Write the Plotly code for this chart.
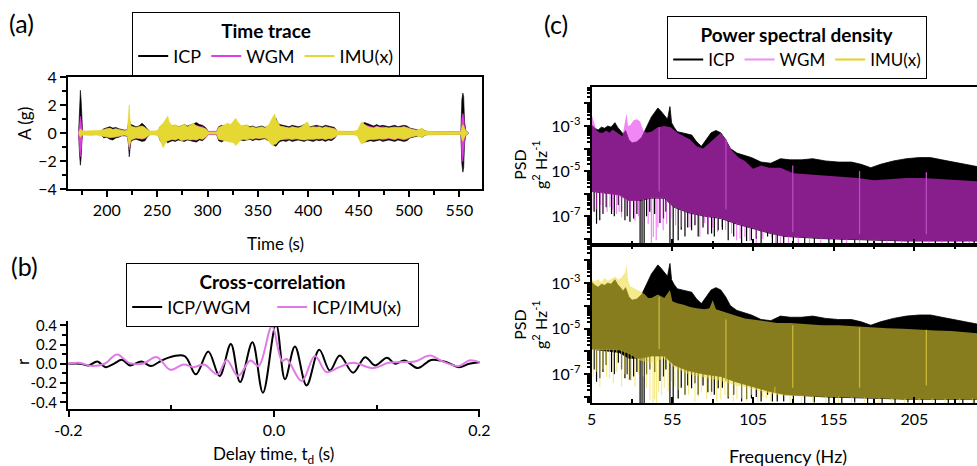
import numpy as np
import plotly.graph_objects as go

W, H = 977, 466
FONT = "Lato"

# ---------------- (a) Time trace: envelopes ----------------
time_s = [172, 173, 173.8, 174.5, 175.3, 176,
          180, 185, 190, 194,
          197, 200, 203, 206, 209, 212, 215, 218,
          220.5, 221.5, 222.3, 223, 224,
          226, 229, 232, 235, 238, 240,
          243, 247, 251,
          253, 256, 259, 260.5, 262, 265, 268, 271, 274, 277, 280, 283, 286, 289, 292, 295, 298,
          301, 305, 309,
          311, 314, 317, 320, 323, 326, 328, 330, 333, 336, 339, 342, 345, 348, 351, 354, 357, 359,
          361, 363, 365, 366.5, 368, 370, 372,
          375, 378, 381, 384, 387, 390, 393, 396, 399, 402, 405, 408, 411, 414, 417, 420, 423, 426,
          429, 434, 439, 444, 449,
          451, 453, 456, 459, 462, 465, 468, 471, 474, 477, 480, 483, 486, 489, 492, 495, 498, 501, 504, 507, 510, 513, 516,
          520, 526, 532, 538, 544, 550,
          551.5, 552.5, 553.5, 554.3, 555.2, 556.5, 558, 559]
icp_hi = [0.05, 2.3, 3.05, 2.4, 1.0, 0.1,
          0.08, 0.08, 0.1, 0.12,
          0.3, 0.4, 0.45, 0.35, 0.4, 0.3, 0.25, 0.2,
          0.25, 0.8, 1.0, 0.7, 0.6,
          0.55, 0.45, 0.5, 0.7, 0.5, 0.3,
          0.1, 0.1, 0.12,
          0.45, 0.55, 0.6, 0.7, 0.55, 0.5, 0.55, 0.45, 0.5, 0.6, 0.5, 0.55, 0.65, 0.75, 0.6, 0.55, 0.4,
          0.1, 0.1, 0.1,
          0.45, 0.55, 0.5, 0.6, 0.5, 0.55, 0.65, 0.55, 0.45, 0.5, 0.55, 0.45, 0.5, 0.4, 0.45, 0.5, 0.4, 0.45,
          0.5, 0.7, 0.9, 0.8, 1.05, 0.7, 0.6,
          0.55, 0.5, 0.45, 0.55, 0.5, 0.45, 0.5, 0.6, 0.55, 0.45, 0.5, 0.55, 0.5, 0.45, 0.55, 0.5, 0.45, 0.4,
          0.1, 0.1, 0.1, 0.1, 0.1,
          0.4, 0.65, 0.75, 0.65, 0.55, 0.5, 0.6, 0.5, 0.55, 0.5, 0.45, 0.5, 0.55, 0.45, 0.5, 0.55, 0.5, 0.35, 0.3, 0.25, 0.2, 0.3, 0.15,
          0.08, 0.08, 0.08, 0.08, 0.08, 0.08,
          0.1, 2.4, 2.85, 2.6, 0.8, 0.15, 0.1, 0.0]
icp_lo = [-0.05, -1.6, -2.3, -1.8, -0.6, -0.1,
          -0.08, -0.08, -0.1, -0.12,
          -0.35, -0.3, -0.45, -0.5, -0.35, -0.3, -0.2, -0.2,
          -0.25, -0.8, -1.7, -1.2, -0.6,
          -0.5, -0.45, -0.5, -0.6, -0.55, -0.3,
          -0.1, -0.1, -0.12,
          -0.55, -0.75, -0.6, -0.7, -0.65, -0.55, -0.6, -0.5, -0.55, -0.6, -0.5, -0.55, -0.6, -0.65, -0.5, -0.55, -0.35,
          -0.1, -0.1, -0.1,
          -0.55, -0.65, -0.5, -0.55, -0.6, -0.55, -0.65, -0.6, -0.5, -0.55, -0.5, -0.45, -0.55, -0.45, -0.5, -0.45, -0.4, -0.5,
          -0.55, -0.7, -0.85, -0.9, -0.95, -0.75, -0.6,
          -0.55, -0.6, -0.5, -0.6, -0.55, -0.5, -0.55, -0.6, -0.5, -0.55, -0.6, -0.5, -0.55, -0.5, -0.6, -0.5, -0.55, -0.4,
          -0.1, -0.1, -0.1, -0.1, -0.1,
          -0.45, -0.7, -0.65, -0.6, -0.55, -0.6, -0.55, -0.5, -0.6, -0.55, -0.5, -0.55, -0.6, -0.5, -0.55, -0.6, -0.55, -0.35, -0.3, -0.25, -0.2, -0.3, -0.15,
          -0.08, -0.08, -0.08, -0.08, -0.08, -0.08,
          -0.1, -2.2, -2.8, -2.5, -0.7, -0.15, -0.1, 0.0]
wgm_hi = [0.05, 0.8, 1.2, 0.9, 0.3, 0.08,
          0.06, 0.06, 0.08, 0.1,
          0.2, 0.3, 0.3, 0.25, 0.3, 0.2, 0.2, 0.15,
          0.2, 0.6, 0.9, 0.6, 0.4,
          0.4, 0.35, 0.4, 0.5, 0.35, 0.2,
          0.08, 0.08, 0.1,
          0.35, 0.45, 0.5, 0.5, 0.45, 0.4, 0.45, 0.35, 0.4, 0.45, 0.4, 0.45, 0.5, 0.55, 0.45, 0.45, 0.3,
          0.12, 0.12, 0.12,
          0.35, 0.45, 0.4, 0.5, 0.4, 0.45, 0.5, 0.45, 0.35, 0.4, 0.45, 0.35, 0.4, 0.3, 0.35, 0.4, 0.3, 0.35,
          0.4, 0.55, 0.7, 0.65, 0.8, 0.55, 0.45,
          0.45, 0.4, 0.35, 0.45, 0.4, 0.35, 0.4, 0.5, 0.45, 0.35, 0.4, 0.45, 0.4, 0.35, 0.45, 0.4, 0.35, 0.3,
          0.1, 0.1, 0.1, 0.1, 0.1,
          0.3, 0.5, 0.6, 0.5, 0.45, 0.4, 0.5, 0.4, 0.45, 0.4, 0.35, 0.4, 0.45, 0.35, 0.4, 0.45, 0.4, 0.3, 0.25, 0.2, 0.15, 0.25, 0.12,
          0.08, 0.08, 0.08, 0.08, 0.08, 0.08,
          0.1, 1.0, 1.4, 1.2, 0.4, 0.1, 0.05, 0.0]
wgm_lo = [-0.05, -1.2, -1.7, -1.4, -0.5, -0.08,
          -0.06, -0.06, -0.08, -0.1,
          -0.25, -0.25, -0.35, -0.35, -0.3, -0.25, -0.15, -0.15,
          -0.2, -0.6, -1.2, -0.9, -0.4,
          -0.4, -0.35, -0.4, -0.45, -0.4, -0.2,
          -0.08, -0.08, -0.1,
          -0.45, -0.6, -0.5, -0.55, -0.5, -0.45, -0.5, -0.4, -0.45, -0.5, -0.4, -0.45, -0.5, -0.5, -0.4, -0.45, -0.3,
          -0.12, -0.12, -0.12,
          -0.45, -0.5, -0.4, -0.45, -0.5, -0.45, -0.5, -0.5, -0.4, -0.45, -0.4, -0.35, -0.45, -0.35, -0.4, -0.35, -0.3, -0.4,
          -0.45, -0.55, -0.7, -0.7, -0.75, -0.6, -0.45,
          -0.45, -0.5, -0.4, -0.5, -0.45, -0.4, -0.45, -0.5, -0.4, -0.45, -0.5, -0.4, -0.45, -0.4, -0.5, -0.4, -0.45, -0.3,
          -0.1, -0.1, -0.1, -0.1, -0.1,
          -0.35, -0.55, -0.5, -0.5, -0.45, -0.5, -0.45, -0.4, -0.5, -0.45, -0.4, -0.45, -0.5, -0.4, -0.45, -0.5, -0.45, -0.3, -0.25, -0.2, -0.15, -0.25, -0.12,
          -0.08, -0.08, -0.08, -0.08, -0.08, -0.08,
          -0.1, -1.5, -2.05, -1.8, -0.5, -0.1, -0.05, 0.0]
imu_hi = [0.05, 0.2, 0.3, 0.25, 0.15, 0.15,
          0.15, 0.17, 0.15, 0.2,
          0.25, 0.3, 0.35, 0.25, 0.3, 0.25, 0.2, 0.15,
          0.25, 1.2, 2.0, 1.0, 0.5,
          0.45, 0.4, 0.45, 0.5, 0.4, 0.25,
          0.15, 0.14, 0.2,
          0.5, 0.7, 1.0, 1.2, 0.8, 0.5, 0.6, 0.45, 0.5, 0.65, 0.45, 0.55, 0.7, 0.5, 0.45, 0.4, 0.3,
          0.08, 0.08, 0.08,
          0.4, 0.5, 0.6, 0.7, 0.6, 0.9, 1.05, 0.8, 0.55, 0.5, 0.6, 0.4, 0.45, 0.35, 0.4, 0.45, 0.35, 0.5,
          0.6, 0.9, 1.2, 1.35, 1.0, 0.7, 0.5,
          0.45, 0.4, 0.35, 0.45, 0.4, 0.35, 0.45, 0.6, 0.8, 0.4, 0.45, 0.4, 0.45, 0.35, 0.45, 0.4, 0.35, 0.3,
          0.15, 0.12, 0.12, 0.12, 0.2,
          0.5, 0.8, 0.6, 0.45, 0.4, 0.35, 0.45, 0.4, 0.35, 0.4, 0.35, 0.4, 0.4, 0.35, 0.4, 0.45, 0.35, 0.3, 0.25, 0.2, 0.25, 0.35, 0.15,
          0.12, 0.1, 0.1, 0.1, 0.1, 0.1,
          0.1, 0.4, 0.6, 0.5, 0.3, 0.15, 0.1, 0.0]
imu_lo = [-0.05, -0.2, -0.3, -0.25, -0.15, -0.15,
          -0.15, -0.17, -0.15, -0.2,
          -0.25, -0.3, -0.3, -0.3, -0.3, -0.2, -0.2, -0.15,
          -0.25, -0.7, -1.0, -0.8, -0.5,
          -0.45, -0.35, -0.4, -0.4, -0.35, -0.25,
          -0.15, -0.14, -0.2,
          -0.6, -1.05, -0.6, -0.55, -0.5, -0.45, -0.5, -0.4, -0.55, -0.5, -0.45, -0.5, -0.45, -0.5, -0.4, -0.45, -0.3,
          -0.08, -0.08, -0.08,
          -0.45, -0.5, -0.55, -0.6, -0.65, -0.7, -0.9, -0.75, -0.5, -0.45, -0.5, -0.4, -0.45, -0.35, -0.4, -0.4, -0.35, -0.45,
          -0.6, -0.8, -0.9, -0.8, -0.8, -0.6, -0.5,
          -0.45, -0.4, -0.4, -0.45, -0.4, -0.4, -0.45, -0.5, -0.45, -0.4, -0.45, -0.4, -0.4, -0.4, -0.45, -0.4, -0.4, -0.3,
          -0.15, -0.12, -0.12, -0.12, -0.2,
          -0.55, -0.8, -0.65, -0.5, -0.45, -0.4, -0.45, -0.4, -0.4, -0.4, -0.35, -0.4, -0.45, -0.35, -0.4, -0.45, -0.35, -0.3, -0.25, -0.2, -0.25, -0.3, -0.15,
          -0.12, -0.1, -0.1, -0.1, -0.1, -0.1,
          -0.1, -0.4, -0.6, -0.5, -0.3, -0.15, -0.1, 0.0]

# ---------------- (b) Cross-correlation ----------------
td_wgm = [-0.2, -0.1883, -0.1803, -0.172, -0.164, -0.156, -0.148, -0.140, -0.129, -0.120, -0.112,
          -0.104, -0.087, -0.076, -0.064, -0.053, -0.042, -0.033, -0.021, -0.0108, 0.002, 0.0107,
          0.0204, 0.0317, 0.044, 0.0544, 0.064, 0.077, 0.0887, 0.0984, 0.110, 0.118, 0.127, 0.140,
          0.153, 0.168, 0.180, 0.190, 0.2]
r_icp_wgm = [0.0, 0.0, -0.017, 0.024, -0.035, 0.0, 0.041, -0.017, 0.024, -0.024, 0.017,
             0.059, 0.08, -0.11, 0.128, -0.128, 0.207, -0.19, 0.224, -0.30, 0.41, -0.16,
             0.18, -0.225, 0.145, -0.07, 0.086, -0.093, 0.069, -0.017, 0.062, 0.0, 0.035, -0.045,
             0.04, 0.017, -0.035, 0.0, 0.017]
td_imu = [-0.2, -0.19, -0.177, -0.165, -0.1527, -0.141, -0.128, -0.114, -0.101, -0.088, -0.078,
          -0.068, -0.055, -0.046, -0.035, -0.023, -0.015, -0.002, 0.0078, 0.0124, 0.0269, 0.0398,
          0.0511, 0.0625, 0.077, 0.0967, 0.1114, 0.122, 0.137, 0.152, 0.164, 0.180, 0.190, 0.2]
r_icp_imu = [0.0, 0.01, -0.024, 0.0, 0.097, 0.01, 0.0, 0.069, -0.062, -0.007, -0.035,
             -0.007, -0.11, 0.04, -0.128, 0.035, -0.024, 0.39, 0.03, 0.05, -0.18, 0.08,
             -0.086, -0.04, 0.01, -0.045, 0.01, 0.017, 0.024, 0.086, 0.024, -0.024, 0.035, 0.017]

# ---------------- (c) PSD (values as log10 of g^2/Hz) ----------------
f_icp_up = [5, 7, 9, 11, 13, 15, 17, 19.4, 21, 22.5, 24.5, 26, 28, 30, 33, 36, 38, 40, 42, 44,
            46, 48, 50, 52, 53.5, 54.5, 56, 58, 61, 64, 67, 70, 73, 76, 79, 82, 85, 88, 91, 95,
            99, 104, 110, 116, 122, 128, 135, 142, 150, 158, 166, 172, 178, 184, 192, 200, 208, 215, 222, 230,
            237, 244]
icp_up_log = [-2.96, -3.1, -3.18, -3.05, -3.1, -3.0, -3.05, -2.85, -3.05, -3.2, -3.35, -3.2, -3.6, -3.75, -3.7, -3.5, -3.2, -2.95, -2.6, -2.4,
              -2.2, -2.35, -2.55, -2.7, -2.14, -2.85, -3.05, -3.25, -3.3, -3.35, -3.4, -3.7, -3.9, -3.6, -3.3, -3.2, -3.3, -3.6, -4.0, -4.2,
              -4.3, -4.4, -4.6, -4.65, -4.45, -4.5, -4.5, -4.45, -4.55, -4.6, -4.6, -4.7, -4.85, -4.7, -4.55, -4.45, -4.4, -4.4, -4.5, -4.6,
              -4.7, -4.8]
f_wgm_up = [5, 6, 8, 10, 12, 14, 16, 18, 20, 22, 24, 26.6, 27.5, 29, 31, 33, 35, 37, 39, 42,
            46, 50, 54, 58, 62, 66, 70, 74, 78, 82, 85, 88, 92, 96, 100, 105, 110, 115, 122, 130,
            140, 150, 160, 170, 180, 190, 200, 210, 220, 230, 244]
wgm_up_log = [-2.5, -2.7, -3.2, -3.3, -3.3, -3.2, -3.3, -3.15, -3.25, -3.35, -3.45, -2.45, -3.0, -2.95, -2.75, -2.7, -2.8, -3.2, -3.3, -3.25,
              -3.05, -3.0, -3.05, -3.3, -3.45, -3.6, -3.9, -4.0, -3.75, -3.5, -3.3, -3.6, -4.1, -4.4, -4.55, -4.9, -4.75, -4.85, -4.85, -5.1,
              -5.15, -5.2, -5.25, -5.3, -5.4, -5.35, -5.3, -5.3, -5.35, -5.4, -5.45]
f_imu_up = [5, 7, 9, 11, 13, 15, 17, 19.5, 21.5, 23.5, 25.5, 26.6, 27.6, 29, 30.7, 32, 34, 36, 38, 40,
            42, 46, 50, 53.5, 55, 58, 62, 66, 70, 75, 78, 80, 82, 86, 90, 95, 100, 105, 112, 120,
            128, 138, 148, 158, 168, 178, 188, 198, 208, 218, 228, 237, 244]
imu_up_log = [-2.85, -2.93, -2.82, -2.97, -2.78, -2.9, -2.82, -2.71, -2.85, -2.75, -2.56, -2.19, -2.9, -3.15, -3.2, -3.25, -3.3, -3.4, -3.5, -3.65,
              -3.66, -3.5, -3.65, -3.3, -3.8, -3.88, -3.95, -4.05, -4.1, -4.15, -4.1, -3.75, -4.15, -4.25, -4.35, -4.45, -4.55, -4.6, -4.65, -4.75,
              -4.75, -4.8, -4.85, -4.85, -4.9, -4.95, -4.98, -5.0, -5.05, -5.08, -5.1, -5.15, -5.2]
# lower edge of the dense part of each spectrum
f_base = [5, 15, 22, 28, 35, 42, 50, 56, 65, 75, 85, 95, 105, 115, 125, 150, 175, 200, 225, 244]
icp_base_log = [-5.9, -6.0, -6.05, -6.3, -6.3, -6.2, -6.2, -6.6, -6.85, -7.0, -7.1, -7.35, -7.55, -7.75, -7.9, -8.0, -8.05, -8.1, -8.1, -8.1]
wgm_base_log = [-5.9, -6.0, -6.1, -6.35, -6.3, -6.2, -6.2, -6.6, -6.85, -7.0, -7.1, -7.35, -7.55, -7.75, -7.9, -8.0, -8.05, -8.1, -8.1, -8.1]
imu_base_log = [-5.94, -5.94, -5.95, -6.1, -6.4, -6.5, -6.3, -6.7, -7.0, -7.15, -7.3, -7.5, -7.65, -7.85, -7.95, -8.0, -8.05, -8.1, -8.1, -8.1]
# downward spikes below the dense part
icp_spk_f = [6.5, 8, 10, 12, 14, 17.3, 19, 21.5, 23.5, 25.6, 27, 28.7, 31, 33, 35, 36.2, 37.5, 39, 41, 44,
             47.3, 49.5, 51, 53.5, 55.5, 58.6, 60.5, 62.8, 64.5, 66.9, 69, 71, 74, 77, 79.3, 81, 83.4, 86, 89.6, 93,
             97.9, 101, 104, 107, 110, 114, 117, 120, 124, 130, 137, 143, 152, 160, 168, 176, 185, 193, 201, 210,
             218, 226, 235, 242]
icp_spk_log = [-6.8, -7.33, -7.18, -6.9, -6.6, -6.9, -7.0, -6.5, -6.8, -7.18, -7.0, -7.25, -7.1, -6.9, -8.3, -8.3, -8.3, -7.0, -6.8, -6.9,
               -7.3, -7.1, -6.8, -8.3, -8.3, -8.07, -7.6, -7.9, -7.5, -7.62, -7.4, -7.9, -7.5, -7.8, -7.77, -7.9, -7.62, -7.6, -8.07, -7.9,
               -8.2, -8.1, -8.07, -8.0, -8.2, -7.9, -8.2, -8.2, -8.2, -8.3, -8.3, -8.25, -8.3, -8.3, -8.25, -8.3, -8.3, -8.3, -8.25, -8.3,
               -8.3, -8.3, -8.3, -8.3]
wgm_spk_f = [6, 8, 10.5, 12.2, 14.5, 16.3, 18, 20.4, 22, 23.5, 26, 29, 31.8, 34, 37, 40, 42, 43.2, 45, 46,
             47.5, 49.3, 51.4, 54, 57, 60.7, 63, 66, 69, 72, 75, 77.2, 80, 83, 85.5, 88, 91.7, 94.8, 97, 100,
             103, 107, 111, 116.4, 119, 122, 127, 133, 140, 147, 155, 163, 171, 180, 188, 197, 205, 214, 222, 231,
             239]
wgm_spk_log = [-6.73, -6.7, -6.5, -6.9, -6.8, -6.6, -6.7, -6.9, -6.8, -7.05, -7.0, -6.9, -7.2, -7.0, -7.2, -7.33, -8.3, -7.92, -8.07, -7.5,
               -7.3, -7.62, -7.33, -7.1, -7.4, -7.48, -7.2, -7.5, -7.18, -7.92, -7.3, -7.62, -7.5, -7.7, -7.48, -7.6, -7.77, -8.07, -8.0, -7.92,
               -8.1, -8.2, -8.0, -7.92, -8.2, -8.2, -8.3, -8.3, -8.25, -8.3, -8.3, -8.3, -8.25, -8.3, -8.3, -8.3, -8.3, -8.25, -8.3, -8.3,
               -8.3]
imu_spk_f = [6, 8, 10, 12, 14.2, 16, 18.4, 20.5, 23.5, 25.5, 27.6, 29.5, 31.8, 34, 37, 39, 41, 43, 44, 45.2,
             46.5, 48.3, 50, 52.4, 54.5, 56.6, 59, 62.8, 65, 69, 71, 73, 76.2, 79, 82.4, 85, 87.5, 90, 92.7, 95,
             97.9, 101, 104, 108, 111, 113.3, 116, 118.5, 120.5, 122.6, 128, 135, 142, 150, 158, 166, 174, 183, 191, 199,
             208, 216, 224, 233, 241]
imu_spk_log = [-7.11, -6.9, -7.55, -6.8, -7.11, -7.2, -7.4, -6.9, -7.55, -7.0, -7.26, -7.3, -7.55, -7.0, -7.1, -7.6, -8.14, -8.3, -8.1, -8.3,
               -7.8, -7.92, -7.6, -7.77, -7.3, -7.55, -7.7, -7.92, -7.9, -8.2, -8.0, -7.77, -8.07, -7.9, -8.2, -8.1, -7.92, -8.0, -8.2, -8.1,
               -8.07, -8.2, -7.92, -8.2, -8.0, -8.07, -8.2, -7.55, -7.9, -7.92, -8.3, -8.3, -8.25, -8.3, -8.3, -8.3, -8.25, -8.3, -8.3, -8.3,
               -8.3, -8.25, -8.3, -8.3, -8.3]
# narrow harmonic lines
harm_f = [46.8, 88.2, 129.6, 171.0, 212.4]
harm_wgm_top = [-3.05, -3.6, -4.75, -5.0, -5.05]
harm_wgm_bot = [-5.9, -6.7, -7.7, -7.8, -7.8]
harm_imu_top = [-3.6, -4.6, -4.85, -4.95, -5.05]
harm_imu_bot = [-5.9, -7.3, -7.6, -7.6, -7.5]

for a in (icp_hi, icp_lo, wgm_hi, wgm_lo, imu_hi, imu_lo):
    assert len(a) == len(time_s)
assert len(td_wgm) == len(r_icp_wgm) and len(td_imu) == len(r_icp_imu)
assert len(f_icp_up) == len(icp_up_log) and len(f_wgm_up) == len(wgm_up_log) and len(f_imu_up) == len(imu_up_log)
for a in (icp_base_log, wgm_base_log, imu_base_log):
    assert len(a) == len(f_base)
assert len(icp_spk_f) == len(icp_spk_log) and len(wgm_spk_f) == len(wgm_spk_log) and len(imu_spk_f) == len(imu_spk_log)

# colours
C_ICP = "#000000"
C_WGM_A = "#E23CE6"
C_IMU_A = "#E6D832"
C_IMU_B = "#E07AE8"
C_WGM_C = "#F090F0"
C_IMU_C = "#E8D020"
FILL_WGM_C = "rgba(230,51,238,0.59)"
FILL_IMU_C = "rgba(237,219,53,0.57)"

fig = go.Figure()


def band(x_up, y_up, x_lo, y_lo, color, xa, ya, log=False, lw=0.6):
    xs = list(x_up) + list(x_lo)[::-1]
    ys = list(y_up) + list(y_lo)[::-1]
    if log:
        ys = list(np.power(10.0, ys))
    fig.add_trace(go.Scatter(x=xs, y=ys, mode="lines", fill="toself", fillcolor=color,
                             line=dict(color=color, width=lw), hoverinfo="skip",
                             showlegend=False, xaxis=xa, yaxis=ya))


def spikes(fs, depth, base_f, base_log, color, xa, ya, width=1.2):
    start = np.interp(fs, base_f, base_log)
    xs, ys = [], []
    for f, s, d in zip(fs, start, depth):
        xs += [f, f, None]
        ys += [10 ** (s + 0.03), 10 ** d, None]
    fig.add_trace(go.Scatter(x=xs, y=ys, mode="lines", line=dict(color=color, width=width),
                             hoverinfo="skip", showlegend=False, xaxis=xa, yaxis=ya))


def vlines(fs, top, bot, color, xa, ya, width=1.3):
    xs, ys = [], []
    for f, t, b in zip(fs, top, bot):
        xs += [f, f, None]
        ys += [10 ** t, 10 ** b, None]
    fig.add_trace(go.Scatter(x=xs, y=ys, mode="lines", line=dict(color=color, width=width),
                             hoverinfo="skip", showlegend=False, xaxis=xa, yaxis=ya))


# (a)
band(time_s, icp_hi, time_s, icp_lo, C_ICP, "x", "y")
band(time_s, wgm_hi, time_s, wgm_lo, C_WGM_A, "x", "y")
band(time_s, imu_hi, time_s, imu_lo, C_IMU_A, "x", "y")

# (b)
fig.add_trace(go.Scatter(x=td_wgm, y=r_icp_wgm, mode="lines", line=dict(color=C_ICP, width=2, shape="spline", smoothing=1.0),
                         name="ICP/WGM", xaxis="x2", yaxis="y2", legend="legend2"))
fig.add_trace(go.Scatter(x=td_imu, y=r_icp_imu, mode="lines", line=dict(color=C_IMU_B, width=2, shape="spline", smoothing=1.0),
                         name="ICP/IMU(x)", xaxis="x2", yaxis="y2", legend="legend2"))

# (c) top: ICP then WGM (translucent)
band(f_icp_up, icp_up_log, f_base, icp_base_log, C_ICP, "x3", "y3", log=True, lw=0.8)
spikes(icp_spk_f, icp_spk_log, f_base, icp_base_log, C_ICP, "x3", "y3")
band(f_wgm_up, wgm_up_log, f_base, wgm_base_log, FILL_WGM_C, "x3", "y3", log=True, lw=0)
spikes(wgm_spk_f, wgm_spk_log, f_base, wgm_base_log, FILL_WGM_C, "x3", "y3")
vlines(harm_f, harm_wgm_top, harm_wgm_bot, "#B84AC0", "x3", "y3")
# (c) bottom: ICP then IMU (translucent)
band(f_icp_up, icp_up_log, f_base, icp_base_log, C_ICP, "x4", "y4", log=True, lw=0.8)
spikes(icp_spk_f, icp_spk_log, f_base, icp_base_log, C_ICP, "x4", "y4")
band(f_imu_up, imu_up_log, f_base, imu_base_log, FILL_IMU_C, "x4", "y4", log=True, lw=0)
spikes(imu_spk_f, imu_spk_log, f_base, imu_base_log, FILL_IMU_C, "x4", "y4")
vlines(harm_f, harm_imu_top, harm_imu_bot, "#C9B735", "x4", "y4")

# legend-only entries
for nm, col in (("ICP", C_ICP), ("WGM", C_WGM_A), ("IMU(x)", C_IMU_A)):
    fig.add_trace(go.Scatter(x=[None], y=[None], mode="lines", line=dict(color=col, width=2),
                             name=nm, xaxis="x", yaxis="y", legend="legend"))
for nm, col in (("ICP", C_ICP), ("WGM", C_WGM_C), ("IMU(x)", C_IMU_C)):
    fig.add_trace(go.Scatter(x=[None], y=[None], mode="lines", line=dict(color=col, width=2),
                             name=nm, xaxis="x3", yaxis="y3", legend="legend3"))


def px(p):
    return p / W


def py(p):
    return 1 - p / H


axfont = dict(family=FONT, size=16, color="black")
base = dict(showline=True, linecolor="black", linewidth=2, showgrid=False, zeroline=False,
            tickcolor="black", tickwidth=2, tickfont=axfont, ticklen=6, automargin=False)


def minor_ticks(vals, side, ln=4):
    return dict(tickmode="array", tickvals=vals, ticks=side, ticklen=ln,
                tickwidth=1.5, tickcolor="black", showgrid=False)


decades = [10.0 ** k for k in range(-9, -1)]
dec_text = ["", "", "10<sup>-7</sup>", "", "10<sup>-5</sup>", "", "10<sup>-3</sup>", ""]
log_minor = [m * 10.0 ** k for k in range(-9, -1) for m in range(2, 10)]

layout_axes = dict(
    xaxis=dict(base, domain=[px(68), px(482)], range=[161.5, 572.5], anchor="y", mirror=True,
               ticks="outside", tickmode="array", tickvals=[200, 250, 300, 350, 400, 450, 500, 550],
               minor=minor_ticks([175, 225, 275, 325, 375, 425, 475, 525], "outside")),
    yaxis=dict(base, domain=[py(189), py(77)], range=[-4, 4], anchor="x", mirror=True,
               ticks="outside", tickmode="array", tickvals=[-4, -2, 0, 2, 4],
               minor=minor_ticks([-3, -1, 1, 3], "outside")),
    xaxis2=dict(base, domain=[px(68), px(480)], range=[-0.2005, 0.2005], anchor="y2",
                ticks="outside", tickmode="array", tickvals=[-0.2, 0.0, 0.2], ticktext=["-0.2", "0.0", "0.2"],
                minor=minor_ticks([-0.1, 0.1], "inside")),
    yaxis2=dict(base, domain=[py(409), py(320.5)], range=[-0.47, 0.45], anchor="x2",
                ticks="outside", tickmode="array", tickvals=[-0.4, -0.2, 0.0, 0.2, 0.4],
                ticktext=["-0.4", "-0.2", "0.0", "0.2", "0.4"], tickfont=dict(family=FONT, size=15, color="black"),
                minor=minor_ticks([-0.3, -0.1, 0.1, 0.3], "outside")),
    xaxis3=dict(base, domain=[px(591.7), 1.0], range=[5, 243.8], anchor="y3", mirror=True,
                ticks="inside", showticklabels=False, tickmode="array", tickvals=[5, 55, 105, 155, 205],
                minor=minor_ticks([30, 80, 130, 180, 230], "inside")),
    yaxis3=dict(base, type="log", domain=[py(245.3), py(87)], range=[-8.29, -1.27], anchor="x3",
                ticks="outside", tickmode="array", tickvals=decades, ticktext=dec_text,
                minor=minor_ticks(log_minor, "outside", 3)),
    xaxis4=dict(base, domain=[px(591.7), 1.0], range=[5, 243.8], anchor="y4", mirror="allticks",
                ticks="inside", tickmode="array", tickvals=[5, 55, 105, 155, 205],
                minor=minor_ticks([30, 80, 130, 180, 230], "inside")),
    yaxis4=dict(base, type="log", domain=[py(403.3), py(245.3)], range=[-8.28, -1.34], anchor="x4",
                ticks="outside", tickmode="array", tickvals=decades, ticktext=dec_text,
                minor=minor_ticks(log_minor, "outside", 3)),
)

leg_common = dict(orientation="h", xanchor="left", yanchor="top", bgcolor="white",
                  bordercolor="black", borderwidth=1.2, font=dict(family=FONT, size=18, color="black"),
                  itemwidth=30, tracegroupgap=0)
TITLE_FONT = dict(family=FONT, size=19, color="black")

fig.update_layout(
    width=W, height=H, margin=dict(l=0, r=0, t=0, b=0, pad=0, autoexpand=False),
    paper_bgcolor="white", plot_bgcolor="white",
    font=dict(family=FONT, color="black"),
    legend=dict(leg_common, x=px(132), y=py(12),
                title=dict(text="<b>Time trace</b>", side="top center", font=TITLE_FONT)),
    legend2=dict(leg_common, x=px(126), y=py(263), entrywidth=100,
                 title=dict(text="<b>Cross-correlation</b>", side="top center", font=TITLE_FONT)),
    legend3=dict(leg_common, x=px(667), y=py(16), font=dict(family=FONT, size=17, color="black"),
                 title=dict(text="<b>Power spectral density</b>", side="top center", font=TITLE_FONT)),
    **layout_axes,
)

ann = [
    dict(text="(a)", x=px(7), y=py(23), xanchor="left", font=dict(size=25)),
    dict(text="(b)", x=px(9), y=py(266), xanchor="left", font=dict(size=25)),
    dict(text="(c)", x=px(542), y=py(24), xanchor="left", font=dict(size=25)),
    dict(text="A (g)", x=px(24), y=py(124), textangle=-90, font=dict(size=17)),
    dict(text="Time (s)", x=px(275), y=py(243), font=dict(size=17)),
    dict(text="r", x=px(22), y=py(362), textangle=-90, font=dict(size=17)),
    dict(text="Delay time, t<sub>d</sub> (s)", x=px(273), y=py(455), font=dict(size=17)),
    dict(text="Frequency (Hz)", x=px(788), y=py(456), font=dict(size=18)),
    dict(text="PSD<br>g<sup>2</sup> Hz<sup>-1</sup>", x=px(530), y=py(165), textangle=-90, font=dict(size=16)),
    dict(text="PSD<br>g<sup>2</sup> Hz<sup>-1</sup>", x=px(530), y=py(325), textangle=-90, font=dict(size=16)),
]
for a in ann:
    a.setdefault("xanchor", "center")
    a.setdefault("yanchor", "middle")
    a["font"] = dict(family=FONT, color="black", **a["font"])
    fig.add_annotation(xref="paper", yref="paper", showarrow=False, **a)

fig.write_html("out.html", config={"displayModeBar": False},
               post_script="document.body.style.margin='0';document.body.style.overflow='hidden';")
